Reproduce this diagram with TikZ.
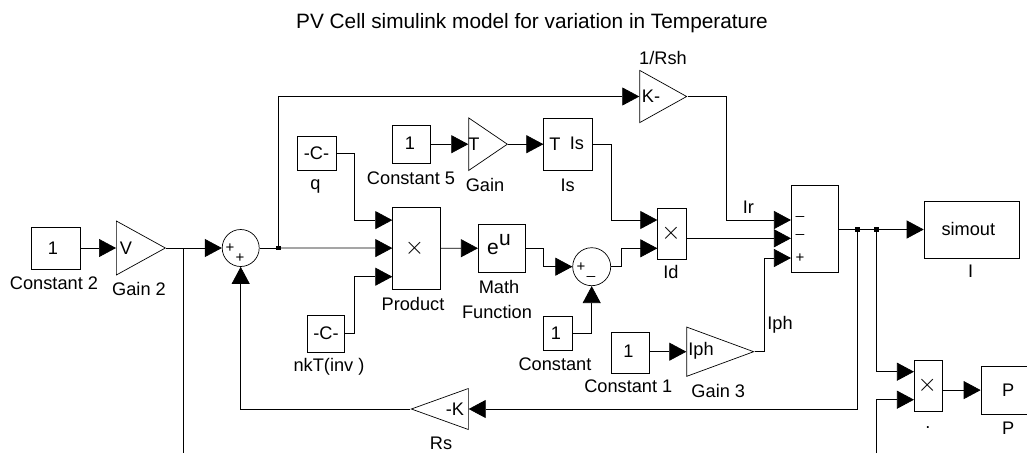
\documentclass[tikz,border=0pt]{standalone}
\usepackage{fontspec}
\setmainfont{Liberation Sans}
\usetikzlibrary{arrows.meta,shapes.geometric}
\tikzset{
  block/.style={draw, rectangle, inner sep=0pt, line width=0.7pt},
  gain/.style={draw, isosceles triangle, isosceles triangle stretches, inner sep=0pt, line width=0.7pt, anchor=lower side},
  sumnode/.style={draw, circle, inner sep=0pt, minimum size=37pt, line width=0.7pt},
  txt/.style={inner sep=0pt},
  sgn/.style={inner sep=0pt, font=\fontsize{15}{16}\selectfont},
  crs/.style={inner sep=0pt, font=\fontsize{28}{28}\selectfont},
  wire/.style={line width=0.7pt, black},
  feed/.style={wire, -{Triangle[length=17pt,width=18pt]}},
  junc/.style={fill=black, rectangle, inner sep=0pt, minimum size=4.5pt}
}
\begin{document}
\begin{tikzpicture}[x=1pt,y=-1pt,every node/.append style={font=\fontsize{18.2}{20}\selectfont}]
\useasboundingbox (0,0) rectangle (1027,453);

% Title
\node[txt, font=\fontsize{20.8}{22}\selectfont] (title) at (532,23) {PV Cell simulink model for variation in Temperature};

% Left input
\node[block, minimum width=49pt, minimum height=42pt] (const2) at (55.5,248) {};
\node[txt] (const2txt) at (53,248) {1};
\node[txt] (const2lbl) at (54,283) {Constant 2};
\node[gain, minimum height=49pt, minimum width=54pt] (gain2) at (116,248) {};
\node[txt] (gain2txt) at (126,248) {V};
\node[txt] (gain2lbl) at (139,289) {Gain 2};

% First sum
\node[sumnode] (sum1) at (240.7,248) {};
\node[sgn] (sum1a) at (230,248) {+};
\node[sgn] (sum1b) at (240,258) {+};
\coordinate (vin) at (183,453);
\node[junc] (j1) at (278.5,248) {};

% Constants into the product
\node[block, minimum width=39pt, minimum height=34pt] (q) at (316.5,153.3) {-C-};
\node[txt] (qlbl) at (315.5,186) {q};
\node[block, minimum width=37.5pt, minimum height=37pt] (nkt) at (326,333.5) {-C-};
\node[txt] (nktlbl) at (329,367) {nkT(inv )};
\node[block, minimum width=47.5pt, minimum height=82.5pt] (prod) at (416.4,248.1) {};
\node[crs] (prodx) at (414.5,248) {$\times$};
\node[txt] (prodlbl) at (413,304) {Product};

% Saturation current branch
\node[block, minimum width=37.5pt, minimum height=38.5pt] (const5) at (411.5,144.2) {};
\node[txt] (const5txt) at (410,143.5) {1};
\node[txt] (const5lbl) at (411,178) {Constant 5};
\node[gain, minimum height=38.7pt, minimum width=52.6pt] (gaint) at (468.3,144.2) {};
\node[txt] (gainttxt) at (474,144) {T};
\node[txt] (gaintlbl) at (485,185) {Gain};
\node[block, minimum width=48.6pt, minimum height=52.6pt] (is) at (568,144.2) {};
\node[txt] (isa) at (555,144) {T};
\node[txt] (isb) at (577,143) {Is};
\node[txt] (islbl) at (567.7,185) {Is};

% Exponential
\node[block, minimum width=47.4pt, minimum height=48pt] (math) at (502,248.3) {};
\node[txt, font=\fontsize{21}{22}\selectfont] (mathe) at (493,249) {e};
\node[txt, font=\fontsize{21}{22}\selectfont] (mathu) at (505,240) {u};
\node[txt] (mathlbla) at (499,286.7) {Math};
\node[txt] (mathlblb) at (497,311.7) {Function};
\node[sumnode, minimum size=38pt] (sum2) at (591.7,266.7) {};
\node[sgn] (sum2a) at (581,266.7) {+};
\node[sgn] (sum2b) at (591,276) {\_};
\node[block, minimum width=28.6pt, minimum height=33.6pt] (const0) at (558,333.5) {};
\node[txt] (const0txt) at (556,333) {1};
\node[txt] (const0lbl) at (555,364) {Constant};
\node[block, minimum width=28.6pt, minimum height=50.6pt] (id) at (672,234) {};
\node[crs] (idx) at (671,233) {$\times$};
\node[txt] (idlbl) at (671,272.3) {Id};

% Photo current
\node[block, minimum width=38.3pt, minimum height=41pt] (const1) at (630.2,352.8) {};
\node[txt] (const1txt) at (628.5,351) {1};
\node[txt] (const1lbl) at (628.3,386.7) {Constant 1};
\node[gain, minimum height=67pt, minimum width=49.3pt] (gain3) at (686.3,351.7) {};
\node[txt] (gain3txt) at (701,351) {Iph};
\node[txt] (gain3lbl) at (718.3,390.7) {Gain 3};
\node[txt] (iphlbl) at (780,324.3) {Iph};

% 1/Rsh
\node[gain, minimum height=47pt, minimum width=52.3pt] (rsh) at (639.3,96.5) {};
\node[txt] (rshtxt) at (651,96.5) {K-};
\node[txt] (rshlbl) at (663,58) {1/Rsh};
\node[txt] (irlbl) at (748.3,207.7) {Ir};

% Rs
\node[gain, shape border rotate=180, minimum height=57pt, minimum width=41pt] (rs) at (468.7,409) {};
\node[txt] (rstxt) at (455,409) {-K};
\node[txt] (rslbl) at (441,443.3) {Rs};

% Output side
\node[block, minimum width=47.4pt, minimum height=86.6pt] (summer) at (815,229) {};
\node[sgn] (sa) at (800,216) {\_};
\node[sgn] (sb) at (800,234) {\_};
\node[sgn] (sc) at (800,258) {+};
\node[junc] (j2) at (857.7,229.5) {};
\node[junc] (j3) at (876.7,229.5) {};
\node[block, minimum width=95.3pt, minimum height=56.6pt] (simout) at (971.7,230) {};
\node[txt] (simouttxt) at (968.3,229) {simout};
\node[txt] (simoutlbl) at (970.7,271.7) {I};
\node[block, minimum width=28.4pt, minimum height=50.6pt] (pprod) at (928.5,386) {};
\node[crs] (pprodx) at (927.3,385) {$\times$};
\node[txt] (pprodlbl) at (928,428) {.};
\node[block, minimum width=50pt, minimum height=48.3pt] (pout) at (1006,390.1) {};
\node[txt] (pouttxt) at (1008.3,390) {P};
\node[txt] (poutlbl) at (1008.3,428) {P};
\coordinate (iin) at (876.7,453);

% Connectors
\draw[feed] (const2) -- (gain2.lower side);
\draw[feed] (gain2.apex) -- (sum1);
\draw[wire] (183,248) -- (vin);
\draw[wire] (sum1) -- (j1);
\draw[feed] (j1) -- (prod);
\draw[feed] (j1) |- (rsh.lower side);
\draw[feed] (q.east) -- ++(18.3,0) |- ([yshift=28pt]prod.west);
\draw[feed] (nkt.east) -- ++(9.6,0) |- ([yshift=-28.6pt]prod.west);
\draw[feed] (prod) -- (math);
\draw[feed] (const5) -- (gaint.lower side);
\draw[feed] (gaint.apex) -- (is);
\draw[feed] (is.east) -- ++(18.7,0) |- ([yshift=14pt]id.west);
\draw[feed] (math.east) -- ++(17.6,0) |- (sum2.west);
\draw[feed] (const0.east) -| (sum2.south);
\draw[feed] (sum2.east) -- ++(10,0) |- ([yshift=-14.3pt]id.west);
\draw[feed] (id.east |- 0,238.3) -- (summer.west |- 0,238.3);
\draw[feed] (rsh.apex) -- ++(38.4,0) |- ([yshift=9pt]summer.west);
\draw[feed] (const1.east |- gain3.lower side) -- (gain3.lower side);
\draw[feed] (gain3.apex) -- ++(10,0) |- ([yshift=-29pt]summer.west);
\draw[wire] (summer.east |- j2) -- (j2);
\draw[wire] (j2) -- (j3);
\draw[feed] (j3) -- (simout.west |- j3);
\draw[feed] (j2) |- (rs.lower side);
\draw[feed] (rs.apex) -| (sum1.south);
\draw[feed] (j3) |- ([yshift=14.3pt]pprod.west);
\draw[feed] (iin) |- ([yshift=-13.7pt]pprod.west);
\draw[feed] (pprod.east |- pout) -- (pout);
\end{tikzpicture}
\end{document}
